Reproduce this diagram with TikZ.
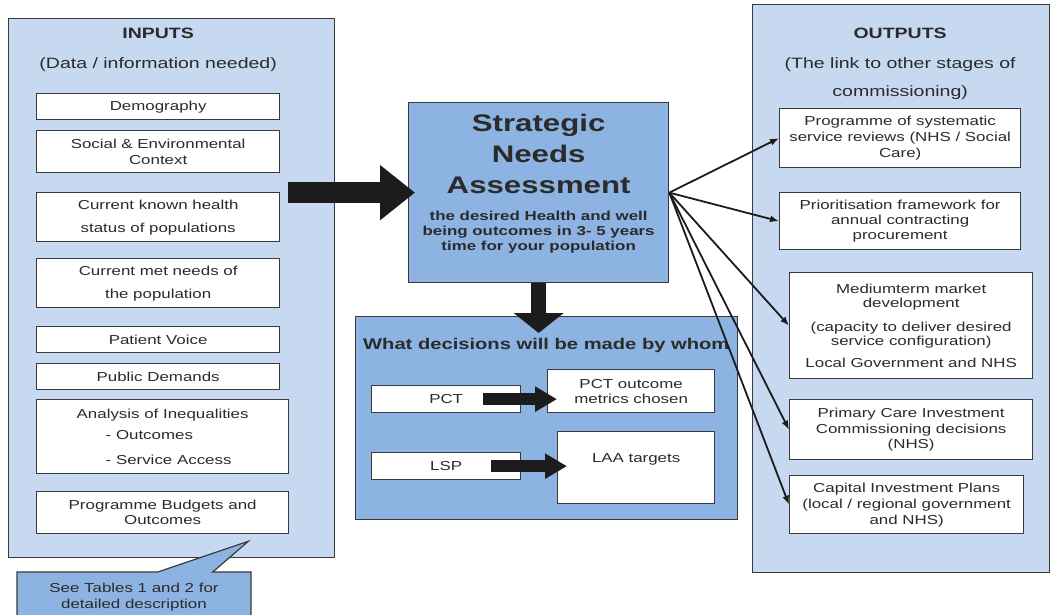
\documentclass[tikz,border=0pt]{standalone}
\usepackage{fontspec}
\setmainfont{Liberation Sans}[FakeStretch=1.3]
\usepackage{tikz}
\usetikzlibrary{arrows.meta,calc,positioning,shapes.callouts}
\definecolor{paleblue}{HTML}{C6D9F1}
\definecolor{midblue}{HTML}{8DB3E2}
\definecolor{linegray}{HTML}{3A3A3A}
\definecolor{textgray}{HTML}{2B2B2B}
\definecolor{arrowgray}{HTML}{1C1C1C}
\tikzset{
        panel/.style = {draw=linegray, fill=paleblue, line width=1.3pt,
            anchor=north west, inner sep=0pt},
        hub/.style = {draw=linegray, fill=midblue, line width=1.3pt,
            anchor=north west, inner sep=0pt},
        block/.style = {draw=linegray, fill=white, line width=1.3pt,
            anchor=north west, inner sep=0pt, align=center, text=textgray,
            font=\fontsize{13}{16}\selectfont},
        heading/.style = {text=textgray, inner sep=0pt, align=center,
            font=\fontsize{15}{28}\selectfont},
        caption/.style = {text=textgray, inner sep=0pt, align=center},
        note/.style = {rectangle callout, draw=linegray, fill=midblue,
            line width=1.2pt, inner sep=0pt, align=center, text=textgray,
            font=\fontsize{13}{16}\selectfont, callout pointer width=55pt},
        fatarrow/.style = {draw=arrowgray, line width=21pt,
            -{Triangle[length=35pt,width=53pt]}},
        downarrow/.style = {draw=arrowgray, line width=15pt,
            -{Triangle[length=20pt,width=49pt]}},
        smallarrow/.style = {draw=arrowgray, line width=12pt,
            -{Triangle[length=22pt,width=24pt]}},
        link/.style = {draw=arrowgray, line width=1.8pt,
            -{Latex[length=9pt,width=7pt]}},
    }

\begin{document}
\begin{tikzpicture}[x=1pt,y=-1pt]
    \useasboundingbox (0,0) rectangle (1050,615);

    % inputs
    \node[panel, minimum width=326pt, minimum height=539pt] (inpanel) at (8,18) {};
    \node[block, minimum width=243pt, minimum height=26pt] (demog) at (36,93) {Demography};
    \node[heading, font=\fontsize{15}{18}\selectfont\bfseries] (intitle) at ($(demog.north)+(0,-60)$) {INPUTS};
    \node[heading] (insub) at ($(demog.north)+(0,-28)$) {(Data / information needed)};
    \node[block, minimum width=243pt, minimum height=42pt] (social) at (36,130) {Social \& Environmental\\Context};
    \node[block, minimum width=243pt, minimum height=49pt] (health) at (36,192) {Current known health\\[7pt]status of populations};
    \node[block, minimum width=243pt, minimum height=49pt] (metneeds) at (36,258) {Current met needs of\\[7pt]the population};
    \node[block, minimum width=243pt, minimum height=26pt] (voice) at (36,326) {Patient Voice};
    \node[block, minimum width=243pt, minimum height=26pt] (demands) at (36,363) {Public Demands};
    \node[block, minimum width=252pt, minimum height=74pt, align=left] (inequal) at (36,399)
        {Analysis of Inequalities\\[5pt]\hspace*{29pt}- Outcomes\\[9pt]\hspace*{29pt}- Service Access};
    \node[block, minimum width=252pt, minimum height=42pt, font=\fontsize{13}{15}\selectfont] (budgets) at (36,491) {Programme Budgets and\\Outcomes};
    \node[note, minimum width=234pt, minimum height=50pt,
        callout absolute pointer={($(budgets.south east)+(-41,7)$)}] (seenote) at (134,597)
        {See Tables 1 and 2 for\\detailed description};

    % outputs
    \node[panel, minimum width=297pt, minimum height=568pt] (outpanel) at (752,4) {};
    \node[block, minimum width=241pt, minimum height=59pt] (review) at (779,108) {Programme of systematic\\service reviews (NHS / Social\\Care)};
    \node[heading, font=\fontsize{15}{18}\selectfont\bfseries] (outtitle) at ($(review.north)+(0,-75)$) {OUTPUTS};
    \node[heading] (outsub) at ($(review.north)+(0,-29)$) {(The link to other stages of\\commissioning)};
    \node[block, minimum width=241pt, minimum height=57pt, font=\fontsize{13}{15}\selectfont] (priority) at (779,192) {Prioritisation framework for\\annual contracting\\procurement};
    \node[block, minimum width=243pt, minimum height=106pt, font=\fontsize{13}{14}\selectfont] (market) at (789,272)
        {Mediumterm market\\development\\[10pt](capacity to deliver desired\\service configuration)\\[8pt]Local Government and NHS};
    \node[block, minimum width=243pt, minimum height=60pt, font=\fontsize{13}{15.5}\selectfont] (primary) at (789,399) {Primary Care Investment\\Commissioning decisions\\(NHS)};
    \node[block, minimum width=234pt, minimum height=58pt] (capital) at (789,475) {Capital Investment Plans\\(local / regional government\\and NHS)};

    % assessment and decisions
    \node[hub, minimum width=260pt, minimum height=180pt] (sna) at (408,102) {};
    \node[caption, font=\fontsize{24}{31}\selectfont\bfseries] (snatitle) at ($(sna.north)+(0,52)$) {Strategic\\Needs\\Assessment};
    \node[caption, font=\fontsize{13}{15}\selectfont\bfseries] (snatext) at ($(sna.north)+(0,130)$)
        {the desired Health and well\\being outcomes in 3- 5 years\\time for your population};

    \node[hub, minimum width=382pt, minimum height=203pt] (decide) at (355,316) {};
    \node[caption, anchor=west, font=\fontsize{15.5}{18}\selectfont\bfseries] (decidetitle) at ($(decide.north west)+(8,29)$) {What decisions will be made by whom};
    \node[block, minimum width=149pt, minimum height=27pt] (pct) at (371,385) {PCT};
    \node[block, minimum width=167pt, minimum height=43pt, font=\fontsize{13}{15}\selectfont] (metrics) at (547,369) {PCT outcome\\metrics chosen};
    \node[block, minimum width=149pt, minimum height=27pt] (lsp) at (371,452) {LSP};
    \node[block, minimum width=157pt, minimum height=72pt, text depth=20pt] (laa) at (557,431) {LAA targets};

    % arrows
    \draw[fatarrow] ($(sna.west -| health.east)+(8,0)$) -- ($(sna.west)+(7,0)$);
    \draw[downarrow] (sna.south) -- ($(sna.south |- decide.north)+(0,17)$);
    \draw[smallarrow] ($(pct.east)+(-38,0)$) -- ($(metrics.west |- pct.east)+(10,0)$);
    \draw[smallarrow] ($(lsp.east)+(-30,0)$) -- ($(laa.west |- lsp.east)+(10,0)$);
    \foreach \out in {review,priority,market,primary,capital}
        \draw[link] (sna.east) -- (\out.west);
\end{tikzpicture}
\end{document}
